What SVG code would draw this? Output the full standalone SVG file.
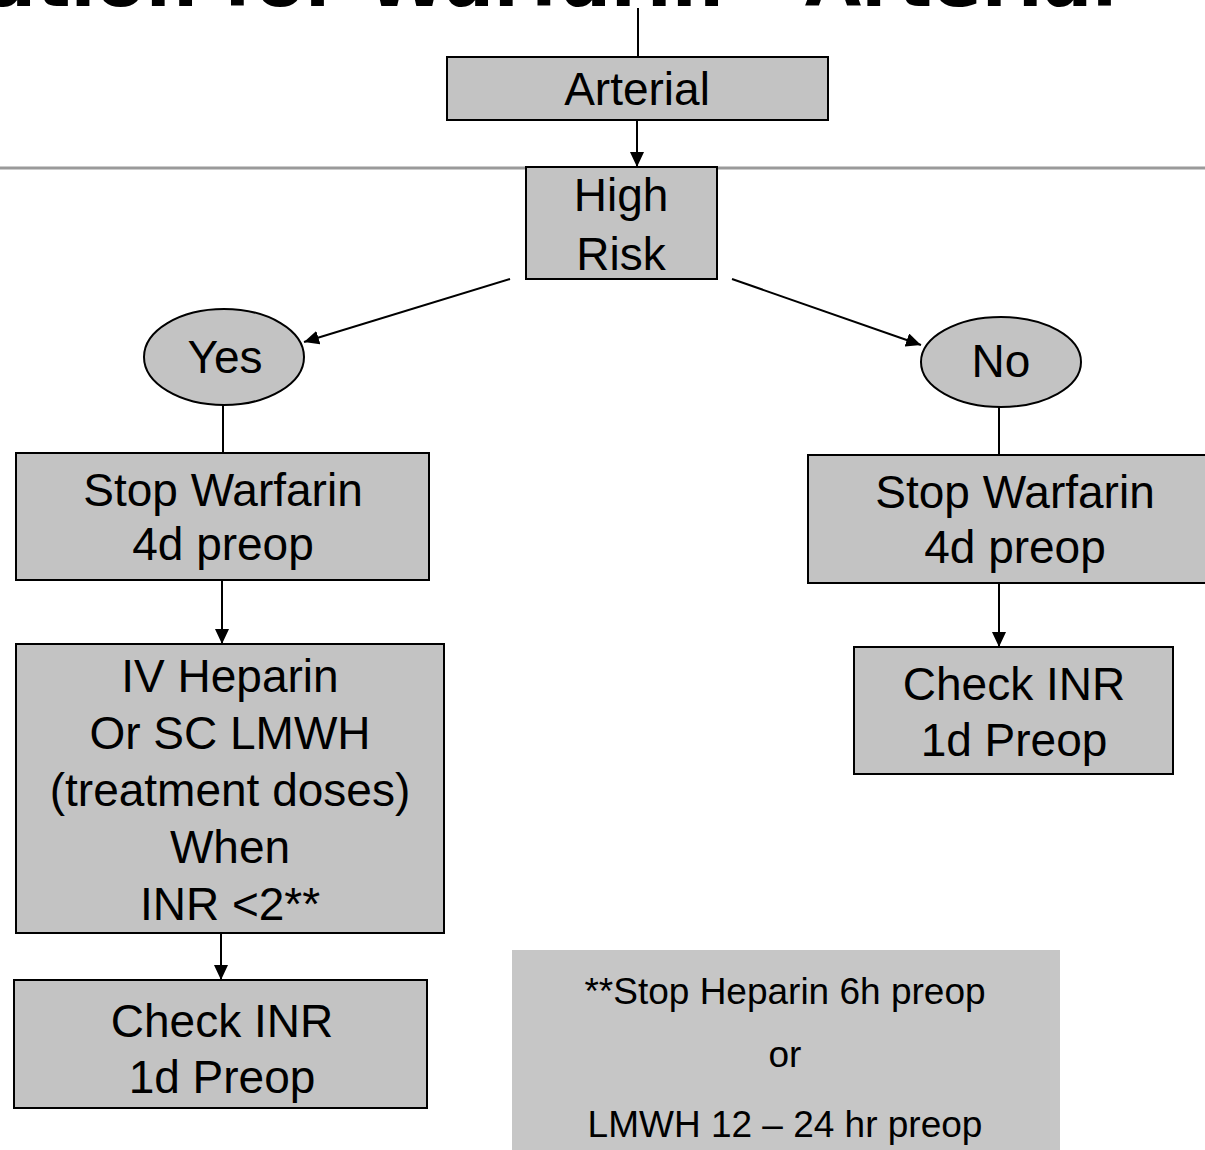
<svg xmlns="http://www.w3.org/2000/svg" width="1205" height="1150" viewBox="0 0 1205 1150">
  <style>
    .box { fill: #c3c3c3; stroke: #000; stroke-width: 2; }
    .note { fill: #c6c6c6; stroke: none; }
    .t { font-family: "Liberation Sans", Arial, sans-serif; font-size: 46px; fill: #000; text-anchor: middle; }
    .tn { font-family: "Liberation Sans", Arial, sans-serif; font-size: 37px; fill: #000; text-anchor: middle; }
    .title { font-family: "DejaVu Sans", Verdana, sans-serif; font-weight: bold; font-size: 73px; fill: #000; text-anchor: end; }
    .c { stroke: #000; stroke-width: 2; fill: none; }
  </style>
  <defs>
    <marker id="arr" markerUnits="userSpaceOnUse" markerWidth="16" markerHeight="14" refX="15" refY="7" orient="auto">
      <path d="M0,0 L15,7 L0,14 Z" fill="#000"/>
    </marker>
  </defs>
  <rect width="1205" height="1150" fill="#fff"/>
  <text class="title" x="1117" y="6">ation for Warfarin - Arterial</text>
  <line x1="0" y1="168" x2="1205" y2="168" stroke="#9a9a9a" stroke-width="3"/>

  <g id="connectors">
    <line class="c" x1="638" y1="8" x2="638" y2="57"/>
    <line class="c" x1="637" y1="120" x2="637" y2="167" marker-end="url(#arr)"/>
    <line class="c" x1="510" y1="279" x2="304" y2="342" marker-end="url(#arr)"/>
    <line class="c" x1="732" y1="279" x2="921" y2="345" marker-end="url(#arr)"/>
    <line class="c" x1="223" y1="405" x2="223" y2="453"/>
    <line class="c" x1="999" y1="407" x2="999" y2="455"/>
    <line class="c" x1="222" y1="580" x2="222" y2="644" marker-end="url(#arr)"/>
    <line class="c" x1="999" y1="583" x2="999" y2="647" marker-end="url(#arr)"/>
    <line class="c" x1="221" y1="933" x2="221" y2="980" marker-end="url(#arr)"/>
  </g>

  <g id="arterial">
    <rect class="box" x="447" y="57" width="381" height="63"/>
    <text class="t" x="637" y="105">Arterial</text>
  </g>
  <g id="high-risk">
    <rect class="box" x="526" y="167" width="191" height="112"/>
    <text class="t" x="621" y="211">High</text>
    <text class="t" x="621" y="270">Risk</text>
  </g>
  <g id="yes">
    <ellipse class="box" cx="224" cy="357" rx="80" ry="48"/>
    <text class="t" x="225" y="373">Yes</text>
  </g>
  <g id="no">
    <ellipse class="box" cx="1001" cy="362" rx="80" ry="45"/>
    <text class="t" x="1001" y="377">No</text>
  </g>
  <g id="stop-warfarin-yes">
    <rect class="box" x="16" y="453" width="413" height="127"/>
    <text class="t" x="223" y="506">Stop Warfarin</text>
    <text class="t" x="223" y="560">4d preop</text>
  </g>
  <g id="stop-warfarin-no">
    <rect class="box" x="808" y="455" width="410" height="128"/>
    <text class="t" x="1015" y="508">Stop Warfarin</text>
    <text class="t" x="1015" y="563">4d preop</text>
  </g>
  <g id="check-inr-no">
    <rect class="box" x="854" y="647" width="319" height="127"/>
    <text class="t" x="1014" y="700">Check INR</text>
    <text class="t" x="1014" y="756">1d Preop</text>
  </g>
  <g id="heparin">
    <rect class="box" x="16" y="644" width="428" height="289"/>
    <text class="t" x="230" y="692">IV Heparin</text>
    <text class="t" x="230" y="749">Or SC LMWH</text>
    <text class="t" x="230" y="806">(treatment doses)</text>
    <text class="t" x="230" y="863">When</text>
    <text class="t" x="230" y="920">INR &lt;2**</text>
  </g>
  <g id="check-inr-yes">
    <rect class="box" x="14" y="980" width="413" height="128"/>
    <text class="t" x="222" y="1037">Check INR</text>
    <text class="t" x="222" y="1093">1d Preop</text>
  </g>
  <g id="note">
    <rect class="note" x="512" y="950" width="548" height="210"/>
    <text class="tn" x="785" y="1004">**Stop Heparin 6h preop</text>
    <text class="tn" x="785" y="1067">or</text>
    <text class="tn" x="785" y="1137">LMWH 12 – 24 hr preop</text>
  </g>
</svg>
